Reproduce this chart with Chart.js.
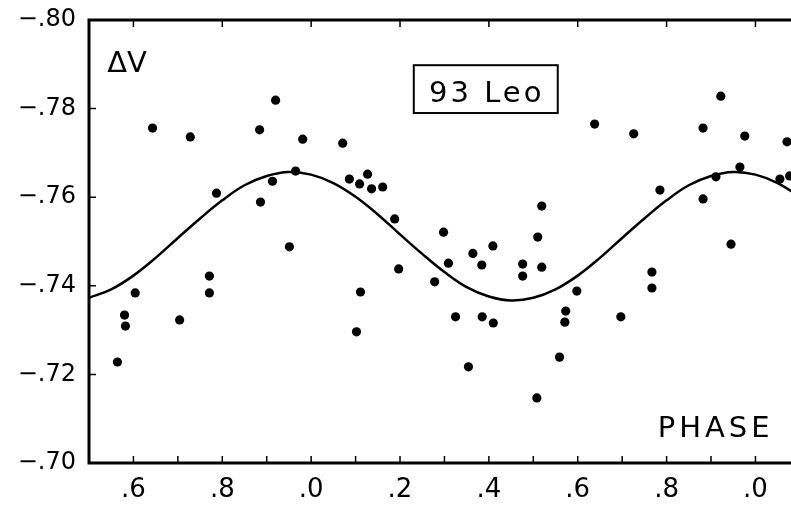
<!DOCTYPE html>
<html>
<head>
<meta charset="utf-8">
<script src="https://cdn.jsdelivr.net/npm/chart.js@4.4.0/dist/chart.umd.min.js"></script>
<style>
    html, body { margin: 0; padding: 0; background: #fff; }
    #wrap { width: 791px; height: 508px; }
</style>
</head>
<body>
<div id="wrap"><canvas id="lc-chart"></canvas></div>
<script>
// 观测点：相位 / ΔV
const phase = [0.564, 0.580, 0.582, 0.604, 0.643, 0.704, 0.728, 0.771, 0.771, 0.787,
    0.884, 0.886, 0.913, 0.920, 0.951, 0.965, 0.981, 1.071, 1.086, 1.102,
    1.109, 1.111, 1.127, 1.136, 1.161, 1.188, 1.197, 1.278, 1.298, 1.309,
    1.325, 1.354, 1.364, 1.384, 1.385, 1.409, 1.410, 1.476, 1.476, 1.508,
    1.510, 1.519, 1.519, 1.559, 1.571, 1.573, 1.598, 1.638, 1.697, 1.726,
    1.767, 1.767, 1.785, 1.882, 1.882, 1.911, 1.922, 1.945, 1.965, 1.976,
    2.055, 2.071, 2.077];
const deltaV = [-0.7228, -0.7334, -0.7309, -0.7384, -0.7756, -0.7323, -0.7736, -0.7422, -0.7384, -0.7609,
    -0.7752, -0.7589, -0.7636, -0.7819, -0.7488, -0.7659, -0.7731, -0.7722, -0.7641, -0.7296,
    -0.7630, -0.7386, -0.7652, -0.7619, -0.7623, -0.7551, -0.7438, -0.7409, -0.7521, -0.7451,
    -0.7330, -0.7217, -0.7473, -0.7447, -0.7330, -0.7490, -0.7316, -0.7449, -0.7422, -0.7147,
    -0.7510, -0.7580, -0.7442, -0.7239, -0.7318, -0.7343, -0.7388, -0.7765, -0.7330, -0.7743,
    -0.7431, -0.7395, -0.7616, -0.7756, -0.7596, -0.7646, -0.7828, -0.7494, -0.7668, -0.7738,
    -0.7641, -0.7725, -0.7648];

// 拟合曲线
const curvePhase = [0.50, 0.55, 0.60, 0.65, 0.70, 0.75, 0.80, 0.85, 0.90, 0.95,
    1.00, 1.05, 1.10, 1.15, 1.20, 1.25, 1.30, 1.35, 1.40, 1.45,
    1.50, 1.55, 1.60, 1.65, 1.70, 1.75, 1.80, 1.85, 1.90, 1.95,
    2.00, 2.05, 2.10];
const curveV = [-0.7373, -0.7392, -0.7423, -0.7463, -0.7508, -0.7552, -0.7593, -0.7627, -0.7648, -0.7657,
    -0.7651, -0.7632, -0.7601, -0.7561, -0.7516, -0.7472, -0.7431, -0.7397, -0.7376, -0.7367,
    -0.7373, -0.7392, -0.7423, -0.7463, -0.7508, -0.7552, -0.7593, -0.7627, -0.7648, -0.7657,
    -0.7651, -0.7632, -0.7601];

// 刻度
const xLabelTicks = [0.6, 0.8, 1.0, 1.2, 1.4, 1.6, 1.8, 2.0];
const xMinorTicks = [0.6, 0.7, 0.8, 0.9, 1.0, 1.1, 1.2, 1.3, 1.4, 1.5, 1.6, 1.7, 1.8, 1.9, 2.0];
const yTicks = [-0.80, -0.78, -0.76, -0.74, -0.72, -0.70];

const FONT = '"DejaVu Sans", sans-serif';

// 边框、内向刻度与文字
const framePlugin = {
    id: 'frame',
    afterDraw(chart) {
        const ctx = chart.ctx;
        const area = chart.chartArea;
        const xs = chart.scales.x;
        const ys = chart.scales.y;
        ctx.save();
        ctx.strokeStyle = '#000';
        ctx.fillStyle = '#000';

        // 外框
        ctx.lineWidth = 3;
        ctx.beginPath();
        ctx.moveTo(chart.width, area.top);
        ctx.lineTo(area.left, area.top);
        ctx.lineTo(area.left, area.bottom);
        ctx.lineTo(chart.width, area.bottom);
        ctx.stroke();

        // 刻度
        ctx.lineWidth = 1.5;
        ctx.beginPath();
        xMinorTicks.forEach(v => {
            const px = xs.getPixelForValue(v);
            ctx.moveTo(px, area.bottom);
            ctx.lineTo(px, area.bottom - 7);
        });
        xLabelTicks.forEach(v => {
            const px = xs.getPixelForValue(v);
            ctx.moveTo(px, area.top);
            ctx.lineTo(px, area.top + 7);
        });
        yTicks.forEach(v => {
            const py = ys.getPixelForValue(v);
            ctx.moveTo(area.left, py);
            ctx.lineTo(area.left + 7, py);
        });
        ctx.stroke();

        // ΔV
        ctx.font = '29px ' + FONT;
        ctx.textAlign = 'left';
        ctx.textBaseline = 'alphabetic';
        ctx.fillText('ΔV', xs.getPixelForValue(0.541), ys.getPixelForValue(-0.7883));

        // 93 Leo 标签框
        const bx1 = xs.getPixelForValue(1.231), bx2 = xs.getPixelForValue(1.555);
        const by1 = ys.getPixelForValue(-0.7898), by2 = ys.getPixelForValue(-0.7790);
        ctx.lineWidth = 2;
        ctx.strokeRect(bx1, by1, bx2 - bx1, by2 - by1);
        ctx.letterSpacing = '3px';
        ctx.textAlign = 'center';
        ctx.fillText('93 Leo', (bx1 + bx2) / 2 + 1, ys.getPixelForValue(-0.7815));

        // PHASE
        ctx.letterSpacing = '4px';
        ctx.textAlign = 'left';
        ctx.fillText('PHASE', xs.getPixelForValue(1.780), ys.getPixelForValue(-0.7059));
        ctx.restore();
    }
};

function initLightCurve() {
    const ctx = document.getElementById('lc-chart');
    if (!ctx) return;

    const points = phase.map((p, i) => ({ x: p, y: deltaV[i] }));
    const curve = curvePhase.map((p, i) => ({ x: p, y: curveV[i] }));

    new Chart(ctx, {
        type: 'scatter',
        data: {
            datasets: [{
                label: 'obs',
                data: points,
                backgroundColor: '#000',
                borderColor: '#000',
                pointRadius: 4.6,
                pointBorderWidth: 0
            }, {
                label: 'fit',
                type: 'line',
                data: curve,
                borderColor: '#000',
                borderWidth: 2.5,
                pointRadius: 0,
                tension: 0.4,
                fill: false
            }]
        },
        options: {
            responsive: true,
            maintainAspectRatio: false,
            animation: false,
            layout: {
                autoPadding: false,
                padding: { top: 20, right: 0, left: 0, bottom: 0 }
            },
            plugins: {
                legend: { display: false },
                tooltip: { enabled: false }
            },
            scales: {
                x: {
                    type: 'linear',
                    min: 0.5,
                    max: 2.08,
                    grid: { display: false, drawTicks: false },
                    border: { display: false },
                    afterBuildTicks: s => { s.ticks = xLabelTicks.map(v => ({ value: v })); },
                    afterFit: s => {
                        s.height = 45;
                        s.paddingLeft = 0;
                        s.paddingRight = 0;
                    },
                    ticks: {
                        color: '#000',
                        padding: 12,
                        maxRotation: 0,
                        font: { family: FONT, size: 26 },
                        callback: v => '.' + Math.round((v % 1) * 10)
                    }
                },
                y: {
                    type: 'linear',
                    min: -0.80,
                    max: -0.70,
                    reverse: true,
                    grid: { display: false, drawTicks: false },
                    border: { display: false },
                    afterBuildTicks: s => { s.ticks = yTicks.map(v => ({ value: v })); },
                    afterFit: s => {
                        s.width = 89;
                        s.paddingTop = 0;
                        s.paddingBottom = 0;
                    },
                    ticks: {
                        color: '#000',
                        padding: 13,
                        font: { family: FONT, size: 24 },
                        callback: v => '−' + Math.abs(v).toFixed(2).replace('0.', '.')
                    }
                }
            }
        },
        plugins: [framePlugin]
    });
}

initLightCurve();
</script>
</body>
</html>
